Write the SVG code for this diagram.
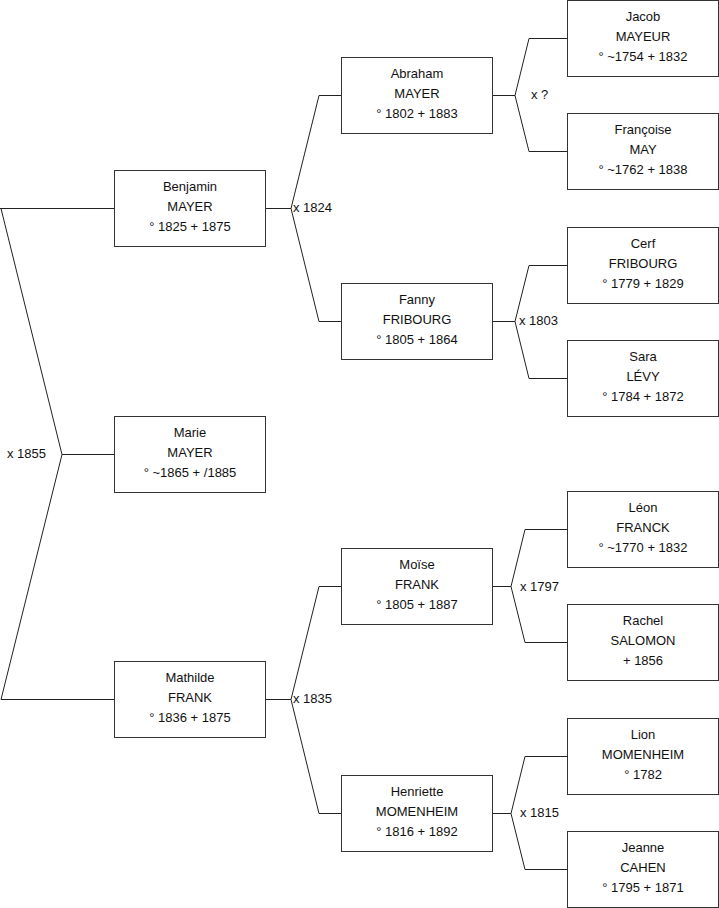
<svg xmlns="http://www.w3.org/2000/svg" width="719" height="908" viewBox="0 0 719 908">
<style>
  .box { fill: #ffffff; stroke: #333333; stroke-width: 1; }
  .t { font-family: "Liberation Sans", Arial, sans-serif; font-size: 13px; fill: #111111; text-anchor: middle; }
  .lbl { font-family: "Liberation Sans", Arial, sans-serif; font-size: 13px; fill: #111111; }
  .c { fill: none; stroke: #222222; stroke-width: 1; }
</style>
<rect x="0" y="0" width="719" height="908" fill="#ffffff"/>
<g id="connectors">
  <path class="c" d="M0,208.5 H114.5"/>
  <path class="c" d="M1,208.5 L62,454.5 H114.5"/>
  <path class="c" d="M62,454.5 L1,699.5 H114.5"/>
  <path class="c" d="M265.5,208.5 H291 L319,95.5 H341.5"/>
  <path class="c" d="M291,208.5 L319,321.5 H341.5"/>
  <path class="c" d="M265.5,699.5 H291 L319,586.5 H341.5"/>
  <path class="c" d="M291,699.5 L319,813.5 H341.5"/>
  <path class="c" d="M492.5,95.5 H515 L529,38.5 H567.5"/>
  <path class="c" d="M515,95.5 L529,151.5 H567.5"/>
  <path class="c" d="M492.5,321.5 H515 L529,265.5 H567.5"/>
  <path class="c" d="M515,321.5 L529,378.5 H567.5"/>
  <path class="c" d="M492.5,586.5 H511 L525,529.5 H567.5"/>
  <path class="c" d="M511,586.5 L525,642.5 H567.5"/>
  <path class="c" d="M492.5,813.5 H511 L525,756.5 H567.5"/>
  <path class="c" d="M511,813.5 L525,869.5 H567.5"/>
  <text class="lbl" x="7" y="458">x 1855</text>
  <text class="lbl" x="293" y="212">x 1824</text>
  <text class="lbl" x="293" y="703">x 1835</text>
  <text class="lbl" x="531" y="99">x ?</text>
  <text class="lbl" x="519" y="325">x 1803</text>
  <text class="lbl" x="520" y="591">x 1797</text>
  <text class="lbl" x="520" y="817">x 1815</text>
</g>
<g id="benjamin">
  <rect class="box" x="114.5" y="170.5" width="151" height="76"/>
  <text class="t" x="190" y="190.5">Benjamin</text>
  <text class="t" x="190" y="210.5">MAYER</text>
  <text class="t" x="190" y="230.5">° 1825 + 1875</text>
</g>
<g id="marie">
  <rect class="box" x="114.5" y="416.5" width="151" height="76"/>
  <text class="t" x="190" y="436.5">Marie</text>
  <text class="t" x="190" y="456.5">MAYER</text>
  <text class="t" x="190" y="476.5">° ~1865 + /1885</text>
</g>
<g id="mathilde">
  <rect class="box" x="114.5" y="661.5" width="151" height="76"/>
  <text class="t" x="190" y="681.5">Mathilde</text>
  <text class="t" x="190" y="701.5">FRANK</text>
  <text class="t" x="190" y="721.5">° 1836 + 1875</text>
</g>
<g id="abraham">
  <rect class="box" x="341.5" y="57.5" width="151" height="76"/>
  <text class="t" x="417" y="77.5">Abraham</text>
  <text class="t" x="417" y="97.5">MAYER</text>
  <text class="t" x="417" y="117.5">° 1802 + 1883</text>
</g>
<g id="fanny">
  <rect class="box" x="341.5" y="283.5" width="151" height="76"/>
  <text class="t" x="417" y="303.5">Fanny</text>
  <text class="t" x="417" y="323.5">FRIBOURG</text>
  <text class="t" x="417" y="343.5">° 1805 + 1864</text>
</g>
<g id="moise">
  <rect class="box" x="341.5" y="548.5" width="151" height="76"/>
  <text class="t" x="417" y="568.5">Moïse</text>
  <text class="t" x="417" y="588.5">FRANK</text>
  <text class="t" x="417" y="608.5">° 1805 + 1887</text>
</g>
<g id="henriette">
  <rect class="box" x="341.5" y="775.5" width="151" height="76"/>
  <text class="t" x="417" y="795.5">Henriette</text>
  <text class="t" x="417" y="815.5">MOMENHEIM</text>
  <text class="t" x="417" y="835.5">° 1816 + 1892</text>
</g>
<g id="jacob">
  <rect class="box" x="567.5" y="0.5" width="151" height="76"/>
  <text class="t" x="643" y="20.5">Jacob</text>
  <text class="t" x="643" y="40.5">MAYEUR</text>
  <text class="t" x="643" y="60.5">° ~1754 + 1832</text>
</g>
<g id="francoise">
  <rect class="box" x="567.5" y="113.5" width="151" height="76"/>
  <text class="t" x="643" y="133.5">Françoise</text>
  <text class="t" x="643" y="153.5">MAY</text>
  <text class="t" x="643" y="173.5">° ~1762 + 1838</text>
</g>
<g id="cerf">
  <rect class="box" x="567.5" y="227.5" width="151" height="76"/>
  <text class="t" x="643" y="247.5">Cerf</text>
  <text class="t" x="643" y="267.5">FRIBOURG</text>
  <text class="t" x="643" y="287.5">° 1779 + 1829</text>
</g>
<g id="sara">
  <rect class="box" x="567.5" y="340.5" width="151" height="76"/>
  <text class="t" x="643" y="360.5">Sara</text>
  <text class="t" x="643" y="380.5">LÉVY</text>
  <text class="t" x="643" y="400.5">° 1784 + 1872</text>
</g>
<g id="leon">
  <rect class="box" x="567.5" y="491.5" width="151" height="76"/>
  <text class="t" x="643" y="511.5">Léon</text>
  <text class="t" x="643" y="531.5">FRANCK</text>
  <text class="t" x="643" y="551.5">° ~1770 + 1832</text>
</g>
<g id="rachel">
  <rect class="box" x="567.5" y="604.5" width="151" height="76"/>
  <text class="t" x="643" y="624.5">Rachel</text>
  <text class="t" x="643" y="644.5">SALOMON</text>
  <text class="t" x="643" y="664.5">+ 1856</text>
</g>
<g id="lion">
  <rect class="box" x="567.5" y="718.5" width="151" height="76"/>
  <text class="t" x="643" y="738.5">Lion</text>
  <text class="t" x="643" y="758.5">MOMENHEIM</text>
  <text class="t" x="643" y="778.5">° 1782</text>
</g>
<g id="jeanne">
  <rect class="box" x="567.5" y="831.5" width="151" height="76"/>
  <text class="t" x="643" y="851.5">Jeanne</text>
  <text class="t" x="643" y="871.5">CAHEN</text>
  <text class="t" x="643" y="891.5">° 1795 + 1871</text>
</g>
</svg>
